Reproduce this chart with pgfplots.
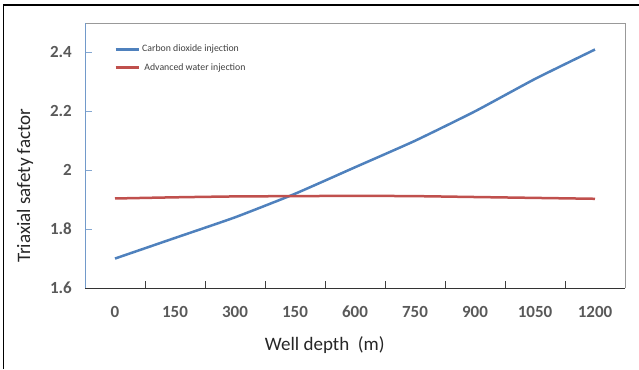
\documentclass[border=0pt]{standalone}
\usepackage{pgfplots}
\pgfplotsset{compat=1.18}
\usepackage{fontspec}
\setmainfont{Carlito}
\definecolor{cblue}{RGB}{79,129,189}
\definecolor{cred}{RGB}{192,80,77}
\definecolor{tickgray}{RGB}{89,89,89}
\begin{document}
\begin{tikzpicture}[x=1pt,y=1pt]
\useasboundingbox (0,0) rectangle (639,369);
\draw[black, line width=1.5pt] (3.5,0) -- (3.5,364) -- (639,364);
\begin{axis}[
  at={(85pt,81pt)}, anchor=south west,
  scale only axis, width=540pt, height=265pt,
  clip=false,
  xmin=-0.5, xmax=8.5, ymin=1.6, ymax=2.5,
  axis line style={draw=none},
  /pgf/number format/assume math mode=true,
  xtick={0.5,1.5,...,8.5},
  xticklabels={},
  extra x ticks={0,1,2,3,4,5,6,7,8},
  extra x tick labels={0,150,300,150,600,750,900,1050,1200},
  extra x tick style={major tick length=0pt},
  ytick={1.6,1.8,2.0,2.2,2.4},
  yticklabels={1.6,1.8,2,2.2,2.4},
  major tick length=7pt,
  tick align=inside,
  xtick pos=bottom, ytick pos=left,
  xtick style={color=black!75, line width=0.8pt},
  ytick style={color=cblue!70, line width=0.8pt},
  tick label style={font=\fontsize{17}{17}\selectfont\bfseries, text=tickgray},
  xticklabel style={anchor=center, yshift=-24pt},
  yticklabel style={anchor=east, inner sep=0pt, xshift=-13pt},
  xlabel={Well depth\ \ (m)},
  ylabel={Triaxial safety factor},
  every axis x label/.style={at={(axis description cs:0.444,0)}, yshift=-57pt, anchor=center, font=\fontsize{19}{19}\selectfont, text=black!85},
  every axis y label/.style={at={(axis description cs:0,0.386)}, xshift=-60pt, rotate=90, anchor=center, font=\fontsize{19}{19}\selectfont, text=black!85},
  legend style={draw=none, fill=none, at={(axis description cs:0.0537,0.925)}, anchor=north west, inner sep=0pt, row sep=6pt, font=\fontsize{9.8}{11}\selectfont, text=black!75, nodes={inner sep=2pt}},
  legend cell align=left,
  legend image code/.code={\draw[#1, line width=3pt] (0pt,0pt) -- (23pt,0pt);},
]
\addplot[cblue, line width=2.5pt, smooth, tension=0.3] coordinates {
  (0,1.70) (1,1.77) (2,1.84) (3,1.92) (4,2.01) (5,2.10) (6,2.20) (7,2.31) (8,2.41)
};
\addlegendentry{Carbon dioxide injection}
\addplot[cred, line width=2.5pt, smooth, tension=0.3] coordinates {
  (0,1.904) (1,1.908) (2,1.911) (3,1.912) (4,1.913) (5,1.912) (6,1.909) (7,1.906) (8,1.903)
};
\addlegendentry{\ Advanced water injection}
\draw[black!40, line width=1pt] (rel axis cs:0,1) -- (rel axis cs:1,1) -- (rel axis cs:1,0);
\draw[cblue!80, line width=0.8pt] (rel axis cs:0,0) -- (rel axis cs:0,1);
\draw[black!80, line width=1pt] (rel axis cs:0,0) -- (rel axis cs:1,0);
\end{axis}
\end{tikzpicture}
\end{document}
